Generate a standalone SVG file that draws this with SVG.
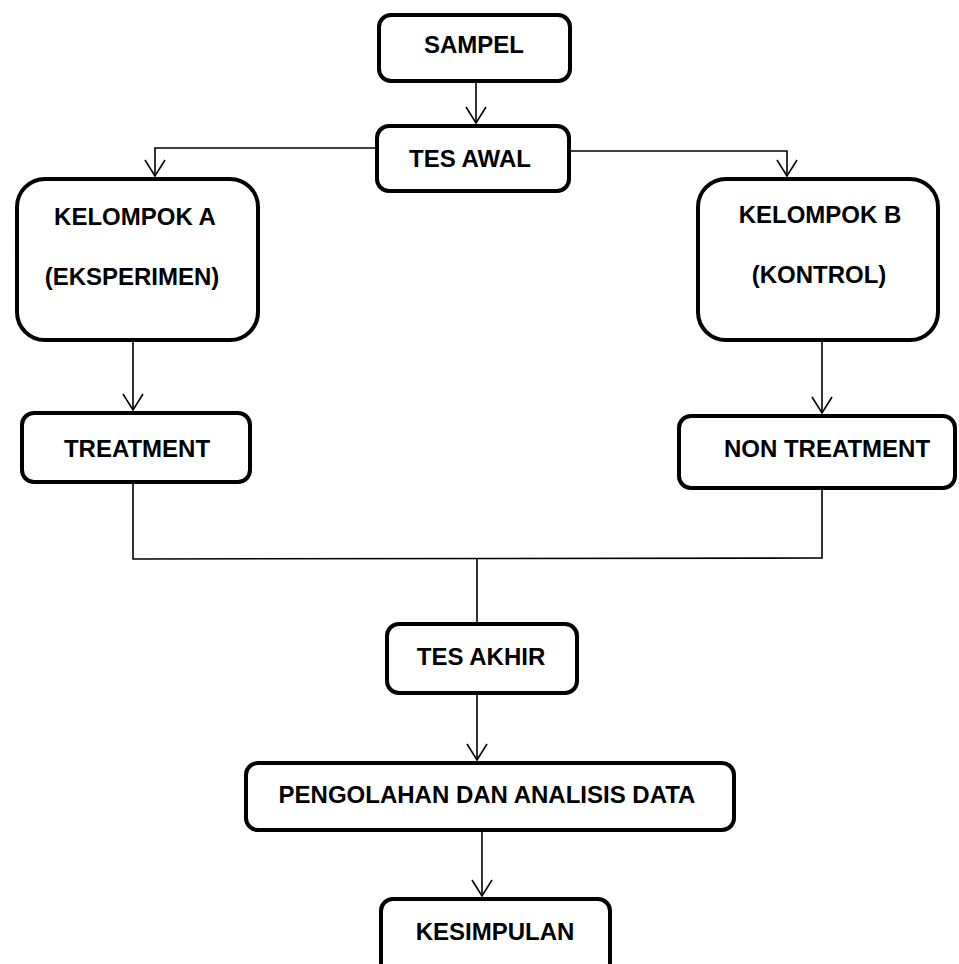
<svg xmlns="http://www.w3.org/2000/svg" width="959" height="964" viewBox="0 0 959 964">
<style>
.box{fill:#fff;stroke:#000;stroke-width:4}
.lbl{font-family:"Liberation Sans",Arial,sans-serif;font-weight:bold;font-size:24px;fill:#000;text-anchor:middle}
.con{fill:none;stroke:#000;stroke-width:1.6}
</style>
<defs>
<marker id="arr" markerUnits="userSpaceOnUse" markerWidth="40" markerHeight="40" refX="0" refY="0" orient="auto" overflow="visible">
<path d="M-16,-10 L0,0 L-16,10" fill="none" stroke="#000" stroke-width="1.6"/>
</marker>
</defs>
<rect width="959" height="964" fill="#fff"/>
<g id="connectors">
<line class="con" x1="476" y1="83" x2="476" y2="123" marker-end="url(#arr)"/>
<polyline class="con" points="375,148 155,148 155,176" marker-end="url(#arr)"/>
<polyline class="con" points="569,151 787,151 787,176" marker-end="url(#arr)"/>
<line class="con" x1="133" y1="342" x2="133" y2="410" marker-end="url(#arr)"/>
<line class="con" x1="822" y1="342" x2="822" y2="413" marker-end="url(#arr)"/>
<polyline class="con" points="133,484 133,559 822,558 822,490"/>
<line class="con" x1="477" y1="559" x2="477" y2="622"/>
<line class="con" x1="477" y1="695" x2="477" y2="760" marker-end="url(#arr)"/>
<line class="con" x1="482" y1="832" x2="482" y2="896" marker-end="url(#arr)"/>
</g>
<g id="sampel"><rect class="box" x="379" y="15" width="191" height="66" rx="12"/><text class="lbl" x="474" y="53">SAMPEL</text></g>
<g id="tes-awal"><rect class="box" x="377" y="126" width="192" height="65" rx="12"/><text class="lbl" x="470" y="167">TES AWAL</text></g>
<g id="kelompok-a"><rect class="box" x="17" y="179" width="241" height="161" rx="28"/><text class="lbl" x="135" y="225">KELOMPOK A</text><text class="lbl" x="132" y="285">(EKSPERIMEN)</text></g>
<g id="kelompok-b"><rect class="box" x="698" y="179" width="240" height="161" rx="28"/><text class="lbl" x="820" y="223">KELOMPOK B</text><text class="lbl" x="819" y="283">(KONTROL)</text></g>
<g id="treatment"><rect class="box" x="22" y="413" width="228" height="69" rx="12"/><text class="lbl" x="137" y="457">TREATMENT</text></g>
<g id="non-treatment"><rect class="box" x="679" y="416" width="276" height="72" rx="12"/><text class="lbl" x="827" y="457">NON TREATMENT</text></g>
<g id="tes-akhir"><rect class="box" x="387" y="624" width="190" height="69" rx="12"/><text class="lbl" x="481" y="665">TES AKHIR</text></g>
<g id="pengolahan"><rect class="box" x="246" y="763" width="488" height="67" rx="12"/><text class="lbl" x="487" y="803">PENGOLAHAN DAN ANALISIS DATA</text></g>
<g id="kesimpulan"><rect class="box" x="381" y="899" width="229" height="80" rx="12"/><text class="lbl" x="495" y="940">KESIMPULAN</text></g>
</svg>
